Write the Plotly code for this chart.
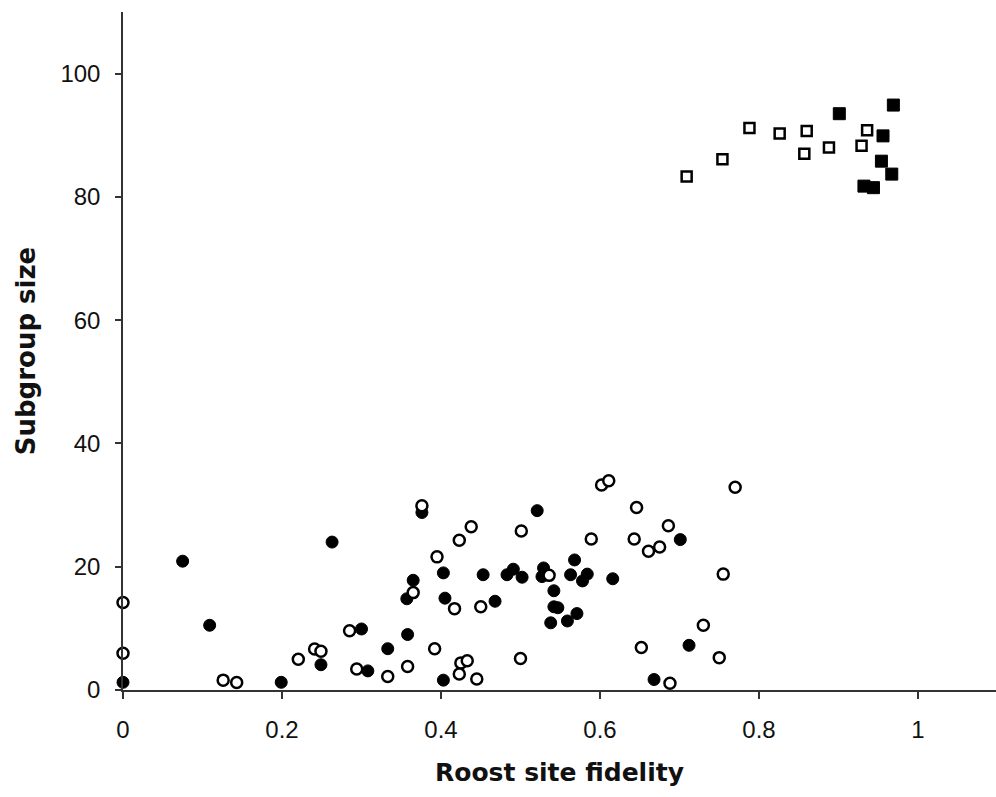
import plotly.graph_objects as go

# Filled circles
fc_x = [0.0, 0.075, 0.109, 0.199, 0.263, 0.249, 0.376, 0.521, 0.403, 0.453, 0.483, 0.491,
        0.502, 0.529, 0.527, 0.563, 0.568, 0.578, 0.584, 0.365, 0.357, 0.405, 0.468, 0.542,
        0.542, 0.547, 0.538, 0.559, 0.571, 0.300, 0.358, 0.333, 0.308, 0.403, 0.701, 0.616,
        0.712, 0.668]
fc_y = [1.25, 20.9, 10.5, 1.25, 24.0, 4.1, 28.8, 29.1, 19.0, 18.7, 18.7, 19.6,
        18.3, 19.8, 18.4, 18.7, 21.1, 17.7, 18.8, 17.8, 14.8, 14.9, 14.4, 16.1,
        13.5, 13.35, 10.9, 11.2, 12.4, 9.9, 9.0, 6.7, 3.1, 1.6, 24.4, 18.05,
        7.25, 1.7]

# Open circles
oc_x = [0.0, 0.0, 0.126, 0.143, 0.285, 0.2205, 0.241, 0.249, 0.376, 0.438, 0.423, 0.501,
        0.395, 0.536, 0.589, 0.365, 0.417, 0.450, 0.392, 0.294, 0.333, 0.358, 0.425, 0.433,
        0.423, 0.445, 0.500, 0.602, 0.611, 0.770, 0.646, 0.686, 0.643, 0.661, 0.675, 0.755,
        0.730, 0.652, 0.750, 0.688]
oc_y = [14.2, 5.95, 1.6, 1.2, 9.6, 5.0, 6.65, 6.3, 29.9, 26.5, 24.3, 25.8,
        21.6, 18.6, 24.5, 15.8, 13.2, 13.5, 6.7, 3.4, 2.2, 3.8, 4.4, 4.75,
        2.6, 1.8, 5.1, 33.25, 33.95, 32.9, 29.6, 26.65, 24.5, 22.5, 23.2, 18.8,
        10.5, 6.9, 5.25, 1.1]

# Open squares
os_x = [0.709, 0.754, 0.788, 0.826, 0.860, 0.857, 0.888, 0.929, 0.936]
os_y = [83.3, 86.1, 91.2, 90.3, 90.7, 87.0, 88.0, 88.3, 90.8]

# Filled squares
fs_x = [0.901, 0.969, 0.956, 0.954, 0.967, 0.932, 0.944]
fs_y = [93.5, 94.9, 89.9, 85.8, 83.7, 81.75, 81.5]

x_ticks = [0, 0.2, 0.4, 0.6, 0.8, 1]
x_tick_labels = ["0", "0.2", "0.4", "0.6", "0.8", "1"]
y_ticks = [0, 20, 40, 60, 80, 100]
y_tick_labels = ["0", "20", "40", "60", "80", "100"]

fig = go.Figure()
fig.add_trace(go.Scatter(x=fc_x, y=fc_y, mode="markers", cliponaxis=False,
                         marker=dict(symbol="circle", size=12, color="black",
                                     line=dict(color="black", width=1))))
fig.add_trace(go.Scatter(x=oc_x, y=oc_y, mode="markers", cliponaxis=False,
                         marker=dict(symbol="circle", size=11, color="white",
                                     line=dict(color="black", width=2.5))))
fig.add_trace(go.Scatter(x=os_x, y=os_y, mode="markers", cliponaxis=False,
                         marker=dict(symbol="square", size=10, color="white",
                                     line=dict(color="black", width=2.5))))
fig.add_trace(go.Scatter(x=fs_x, y=fs_y, mode="markers", cliponaxis=False,
                         marker=dict(symbol="square", size=12, color="black",
                                     line=dict(color="black", width=1))))

axis_color = "#333333"
tick_font = dict(size=24, family="Liberation Sans, Arial, sans-serif", color="#111111")
fig.update_layout(
    width=996, height=797,
    margin=dict(l=123, r=0, t=12, b=107),
    paper_bgcolor="white", plot_bgcolor="white",
    showlegend=False,
    font=dict(family="Liberation Sans, Arial, sans-serif", color="#111111"),
    xaxis=dict(
        range=[0, 873 / 795], tickvals=x_ticks, ticktext=x_tick_labels,
        showgrid=False, zeroline=False, showline=True, linecolor=axis_color, linewidth=1.5,
        ticks="outside", ticklen=7, tickwidth=1.5, tickcolor=axis_color,
        tickfont=tick_font,
        ticklabelstandoff=10,
        title=dict(text="Roost site fidelity", standoff=22,
                   font=dict(size=25, family="DejaVu Sans, sans-serif", color="#111111", weight="bold")),
    ),
    yaxis=dict(
        range=[0, 110], tickvals=y_ticks, ticktext=y_tick_labels,
        showgrid=False, zeroline=False, showline=True, linecolor=axis_color, linewidth=1.5,
        ticks="outside", ticklen=6, tickwidth=1.5, tickcolor=axis_color,
        tickfont=tick_font,
        ticklabelstandoff=10,
        title=dict(text="Subgroup size", standoff=17,
                   font=dict(size=26, family="DejaVu Sans, sans-serif", color="#111111", weight="bold")),
    ),
)

fig.write_html("out.html")
